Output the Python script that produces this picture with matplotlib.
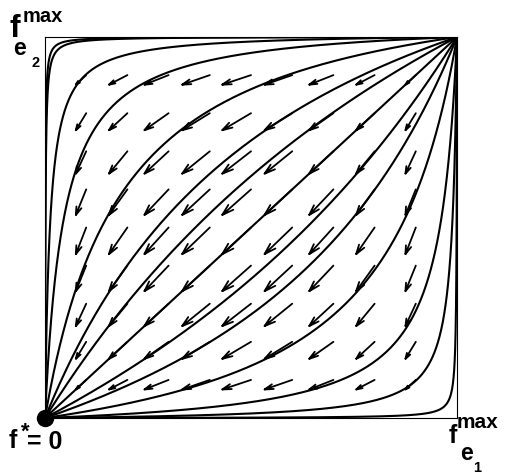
import numpy as np
import matplotlib
matplotlib.use("Agg")
import matplotlib.pyplot as plt

W, H = 506, 475
FONT = "Liberation Sans"

# streamline family y/(1-y) = K * x/(1-x), K
K_ABOVE = [1.74, 2.68, 6.3, 23.0, 83.0, 900.0, 1600.0]
K_DIAG = [1.0]
K_BELOW = [1 / 1.74, 1 / 2.68, 1 / 6.3, 1 / 23.0, 1 / 83.0, 1 / 1000.0]

# quiver grid (tails) and arrow scaling
GRID = [0.1, 0.2, 0.3, 0.4, 0.5, 0.6, 0.7, 0.8, 0.9]
ARROW_SCALE = 0.28
HEAD_LEN = 0.3
HEAD_WID = 0.3


def field(x, y):
    return -x * (1 - x), -y * (1 - y)


def px(x, y):
    # pixel (from top-left) -> figure fraction
    return x / W, 1 - y / H


def main():
    fig = plt.figure(figsize=(W / 100, H / 100), dpi=100)
    ax = fig.add_axes([45 / W, (H - 418) / H, 412 / W, 381 / H])
    ax.set_xlim(0, 1)
    ax.set_ylim(0, 1)
    ax.set_xticks([])
    ax.set_yticks([])
    for s in ax.spines.values():
        s.set_linewidth(0.8)

    # streamlines
    t = np.linspace(-30, 30, 6000)
    for k in K_ABOVE + K_DIAG + K_BELOW:
        c = np.log(k)
        xs = 1 / (1 + np.exp(-t))
        ys = 1 / (1 + np.exp(-(t + c)))
        ax.plot(xs, ys, color="black", lw=1.5, solid_capstyle="round")

    # quiver arrows, matlab style (open heads)
    X, Y = np.meshgrid(GRID, GRID)
    U, V = field(X, Y)
    U = U * ARROW_SCALE
    V = V * ARROW_SCALE
    segx, segy = [], []
    for x, y, u, v in zip(X.ravel(), Y.ravel(), U.ravel(), V.ravel()):
        segx += [x, x + u, np.nan]
        segy += [y, y + v, np.nan]
        tx, ty = x + u, y + v
        segx += [tx - HEAD_LEN * (u + HEAD_WID * v), tx, tx - HEAD_LEN * (u - HEAD_WID * v), np.nan]
        segy += [ty - HEAD_LEN * (v - HEAD_WID * u), ty, ty - HEAD_LEN * (v + HEAD_WID * u), np.nan]
    ax.plot(segx, segy, color="black", lw=1.3, solid_capstyle="round", solid_joinstyle="miter")

    ax.plot([0], [0], "o", color="black", ms=11.5, clip_on=False, zorder=6)

    kw = dict(family=FONT, weight="bold", color="black", ha="left", va="baseline")
    # top-left label
    fig.text(*px(9, 37), "f", fontsize=23, **kw)
    fig.text(*px(23, 22), "max", fontsize=14.5, **kw)
    fig.text(*px(13, 55), "e", fontsize=16.5, **kw)
    fig.text(*px(32, 67), "2", fontsize=10.5, **kw)
    # origin label
    fig.text(*px(9, 448), "f", fontsize=18, **kw)
    fig.text(*px(21, 438), "*", fontsize=16, **kw)
    fig.text(*px(27, 449), "= 0", fontsize=18, **kw)
    # bottom-right label
    fig.text(*px(449, 443), "f", fontsize=18, **kw)
    fig.text(*px(457, 428), "max", fontsize=15, **kw)
    fig.text(*px(460, 460), "e", fontsize=16.5, **kw)
    fig.text(*px(473, 472), "1", fontsize=10.5, **kw)

    fig.savefig("out.png", dpi=100)


if __name__ == "__main__":
    main()
